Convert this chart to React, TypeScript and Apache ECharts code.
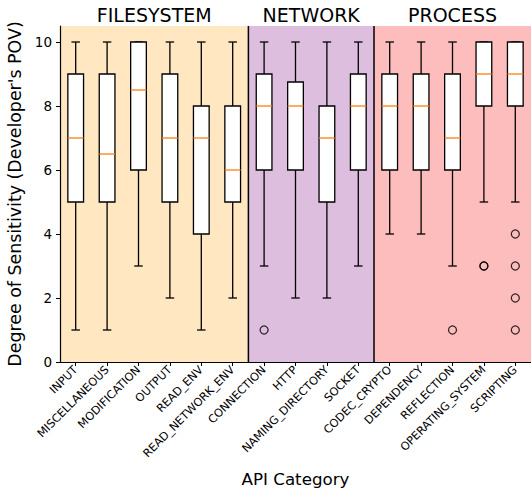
import React, { useEffect, useRef } from "react";
import * as echarts from "echarts";

const categories = [
  "INPUT",
  "MISCELLANEOUS",
  "MODIFICATION",
  "OUTPUT",
  "READ_ENV",
  "READ_NETWORK_ENV",
  "CONNECTION",
  "HTTP",
  "NAMING_DIRECTORY",
  "SOCKET",
  "CODEC_CRYPTO",
  "DEPENDENCY",
  "REFLECTION",
  "OPERATING_SYSTEM",
  "SCRIPTING",
];
const whiskerLow = [1, 1, 3, 2, 1, 2, 3, 2, 2, 3, 4, 4, 3, 5, 5];
const quartile1 = [5, 5, 6, 5, 4, 5, 6, 6, 5, 6, 6, 6, 6, 8, 8];
const medians = [7, 6.5, 8.5, 7, 7, 6, 8, 8, 7, 8, 8, 8, 7, 9, 9];
const quartile3 = [9, 9, 10, 9, 8, 8, 9, 8.75, 8, 9, 9, 9, 9, 10, 10];
const whiskerHigh = [10, 10, 10, 10, 10, 10, 10, 10, 10, 10, 10, 10, 10, 10, 10];
// [category index, value]
const outliers = [
  [6, 1],
  [12, 1],
  [13, 3],
  [13, 3],
  [14, 4],
  [14, 3],
  [14, 2],
  [14, 1],
];
const groupNames = ["FILESYSTEM", "NETWORK", "PROCESS"];
const groupFirst = [0, 6, 10];
const groupLast = [5, 9, 14];
const groupColors = ["#FEE7C1", "#DEBEDE", "#FEBDBD"];
const yTicks = [0, 2, 4, 6, 8, 10];
const yMin = 0;
const yMax = 10.5;

const FONT = "DejaVu Sans";

export default function App() {
  const ref = useRef<HTMLDivElement>(null);

  useEffect(() => {
    if (!ref.current) return;
    const chart = echarts.init(ref.current, null, { renderer: "svg" });

    const boxData = categories.map((_, i) => [
      i,
      whiskerLow[i],
      quartile1[i],
      medians[i],
      quartile3[i],
      whiskerHigh[i],
    ]);
    const groupData = groupNames.map((_, g) => [groupFirst[g], groupLast[g]]);

    const option: any = {
      animation: false,
      backgroundColor: "#ffffff",
      grid: {
        left: 60,
        right: 0,
        top: 26,
        bottom: 131,
        containLabel: false,
        outerBoundsMode: "none",
      },
      xAxis: {
        type: "category",
        data: categories,
        boundaryGap: true,
        z: 10,
        axisLine: { show: true, lineStyle: { color: "#000", width: 1.2 } },
        axisTick: {
          show: true,
          alignWithLabel: true,
          length: 4,
          lineStyle: { color: "#000", width: 1 },
        },
        axisLabel: {
          interval: 0,
          rotate: 45,
          fontSize: 11.3,
          fontFamily: FONT,
          color: "#000",
          margin: 6,
        },
        splitLine: { show: false },
        name: "API Category",
        nameLocation: "middle",
        nameGap: 108,
        nameTextStyle: { fontSize: 16.7, fontFamily: FONT, color: "#000" },
      },
      yAxis: {
        type: "value",
        min: yMin,
        max: yMax,
        z: 10,
        axisLine: { show: true, lineStyle: { color: "#000", width: 1.2 } },
        axisTick: {
          show: true,
          length: 4,
          customValues: yTicks,
          lineStyle: { color: "#000", width: 1 },
        },
        axisLabel: {
          customValues: yTicks,
          fontSize: 13.5,
          fontFamily: FONT,
          color: "#000",
          margin: 8,
        },
        splitLine: { show: false },
        name: "Degree of Sensitivity (Developer's POV)",
        nameLocation: "middle",
        nameGap: 34,
        nameTextStyle: { fontSize: 17.4, fontFamily: FONT, color: "#000" },
      },
      series: [
        {
          type: "custom",
          z: 1,
          silent: true,
          data: groupData,
          encode: { x: 0, y: 1 },
          renderItem: (params: any, api: any) => {
            const g = params.dataIndex;
            const first = api.value(0);
            const last = api.value(1);
            const band = api.size([1, 0])[0];
            const pStart = api.coord([first, yMin]);
            const pEnd = api.coord([last, yMin]);
            const top = api.coord([first, yMax])[1];
            const bottom = pStart[1];
            const x0 = pStart[0] - band / 2;
            const x1 = pEnd[0] + band / 2;
            const children: any[] = [
              {
                type: "rect",
                shape: { x: x0, y: top, width: x1 - x0, height: bottom - top },
                style: { fill: groupColors[g] },
              },
              {
                type: "text",
                x: (x0 + x1) / 2,
                y: top - 11,
                style: {
                  text: groupNames[g],
                  fill: "#000",
                  fontSize: 19,
                  fontFamily: FONT,
                  align: "center",
                  verticalAlign: "middle",
                },
              },
            ];
            if (g > 0) {
              children.push({
                type: "line",
                shape: { x1: x0, y1: top, x2: x0, y2: bottom },
                style: { stroke: "#000", lineWidth: 1.5 },
              });
            }
            return { type: "group", children };
          },
        },
        {
          type: "custom",
          z: 3,
          silent: true,
          data: boxData,
          encode: { x: 0, y: [1, 2, 3, 4, 5] },
          renderItem: (params: any, api: any) => {
            const i = api.value(0);
            const lo = api.coord([i, api.value(1)]);
            const q1 = api.coord([i, api.value(2)]);
            const md = api.coord([i, api.value(3)]);
            const q3 = api.coord([i, api.value(4)]);
            const hi = api.coord([i, api.value(5)]);
            const band = api.size([1, 0])[0];
            const hw = band * 0.25;
            const cw = band * 0.135;
            const x = lo[0];
            const ls = { stroke: "#000", lineWidth: 1.3 };
            return {
              type: "group",
              children: [
                { type: "line", shape: { x1: x, y1: lo[1], x2: x, y2: q1[1] }, style: ls },
                { type: "line", shape: { x1: x, y1: q3[1], x2: x, y2: hi[1] }, style: ls },
                { type: "line", shape: { x1: x - cw, y1: lo[1], x2: x + cw, y2: lo[1] }, style: ls },
                { type: "line", shape: { x1: x - cw, y1: hi[1], x2: x + cw, y2: hi[1] }, style: ls },
                {
                  type: "rect",
                  shape: { x: x - hw, y: q3[1], width: hw * 2, height: q1[1] - q3[1] },
                  style: { fill: "#fff", stroke: "#000", lineWidth: 1.3 },
                },
                {
                  type: "line",
                  shape: { x1: x - hw, y1: md[1], x2: x + hw, y2: md[1] },
                  style: { stroke: "#FF7F0E", lineWidth: 1.3 },
                },
              ],
            };
          },
        },
        {
          type: "scatter",
          z: 4,
          silent: true,
          data: outliers,
          symbol: "circle",
          symbolSize: 8,
          itemStyle: {
            color: "rgba(0,0,0,0)",
            borderColor: "#000",
            borderWidth: 1.3,
          },
        },
      ],
    };

    chart.setOption(option);
    return () => {
      chart.dispose();
    };
  }, []);

  return (
    <div
      ref={ref}
      style={{ position: "absolute", left: 0, top: 0, width: 531, height: 493 }}
    />
  );
}
